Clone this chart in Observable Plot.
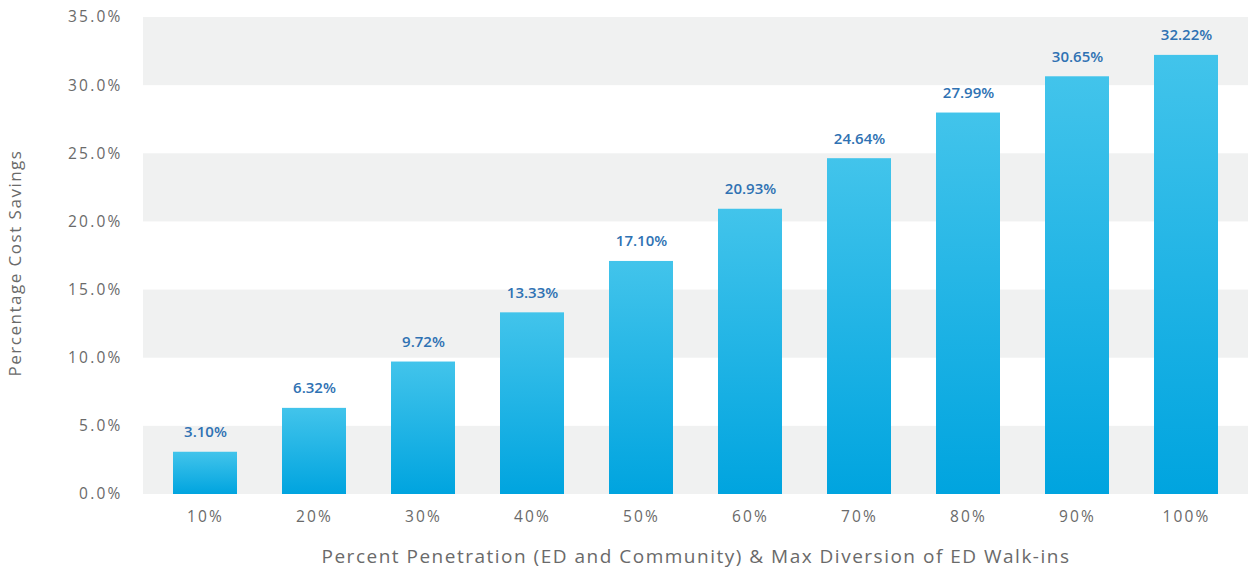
<!DOCTYPE html>
<html>
<head>
<meta charset="utf-8">
<script src="https://cdn.jsdelivr.net/npm/d3@7"></script>
<script src="https://cdn.jsdelivr.net/npm/@observablehq/plot@0.6"></script>
<style>
  html, body { margin: 0; padding: 0; background: #fff; }
  #chart svg { display: block; }
</style>
</head>
<body>
<div id="chart"></div>
<script>
const categories = ["10%", "20%", "30%", "40%", "50%", "60%", "70%", "80%", "90%", "100%"];
const savings = [3.10, 6.32, 9.72, 13.33, 17.10, 20.93, 24.64, 27.99, 30.65, 32.22];
const yTicks = [0, 5, 10, 15, 20, 25, 30, 35];
const bandStarts = [0, 10, 20, 30];

const data = categories.map((c, i) => ({category: c, value: savings[i]}));

function gradientDefs() {
  const ns = "http://www.w3.org/2000/svg";
  const defs = document.createElementNS(ns, "defs");
  const lg = document.createElementNS(ns, "linearGradient");
  lg.setAttribute("id", "barGrad");
  lg.setAttribute("x1", "0"); lg.setAttribute("y1", "0");
  lg.setAttribute("x2", "0"); lg.setAttribute("y2", "1");
  [["0%", "#42c4eb"], ["100%", "#00a4df"]].forEach(([o, c]) => {
    const s = document.createElementNS(ns, "stop");
    s.setAttribute("offset", o);
    s.setAttribute("stop-color", c);
    lg.appendChild(s);
  });
  defs.appendChild(lg);
  return defs;
}

const chart = Plot.plot({
  width: 1248,
  height: 569,
  marginTop: 17,
  marginBottom: 75,
  marginLeft: 143,
  marginRight: 0,
  style: {fontFamily: "'Open Sans', sans-serif", background: "#fff"},
  x: {domain: categories, paddingInner: 0.415, paddingOuter: 0.2575, label: null},
  y: {domain: [0, 35], label: null},
  marks: [
    gradientDefs,
    Plot.rectY(bandStarts, {y1: d => d, y2: d => d + 5, fill: "#f0f1f1", inset: 0}),
    Plot.barY(data, {x: "category", y: "value", fill: "url(#barGrad)"}),
    Plot.text(data, {
      x: "category", y: "value", text: d => d.value.toFixed(2) + "%",
      dy: -20, fill: "#2f72b3", fontSize: 15, fontWeight: 600,
      style: "letter-spacing:0.9px"
    }),
    Plot.axisY(yTicks, {
      tickSize: 0, tickPadding: 21, tickFormat: d => d.toFixed(1) + "%",
      fontSize: 15.5, color: "#6a6a6a", label: "Percentage Cost Savings",
      labelAnchor: "center", labelOffset: 135, labelArrow: "none"
    }),
    Plot.axisX({
      tickSize: 0, tickPadding: 16, fontSize: 15.5, color: "#6a6a6a",
      label: "Percent Penetration (ED and Community) & Max Diversion of ED Walk-ins",
      labelAnchor: "center", labelOffset: 68, labelArrow: "none"
    })
  ]
});

document.getElementById("chart").appendChild(chart);
chart.querySelectorAll("[aria-label='y-axis tick label'] text, [aria-label='x-axis tick label'] text").forEach(t => {
  t.style.letterSpacing = "2.2px";
});
chart.querySelectorAll("[aria-label='y-axis label'] text").forEach(t => {
  t.setAttribute("font-size", "17");
  t.setAttribute("dx", "-7");
  t.style.letterSpacing = "1.5px";
  t.setAttribute("fill", "#6a6a6a");
});
chart.querySelectorAll("[aria-label='x-axis label'] text").forEach(t => {
  t.setAttribute("font-size", "19");
  t.style.letterSpacing = "1.5px";
  t.setAttribute("fill", "#6a6a6a");
});
</script>
</body>
</html>
